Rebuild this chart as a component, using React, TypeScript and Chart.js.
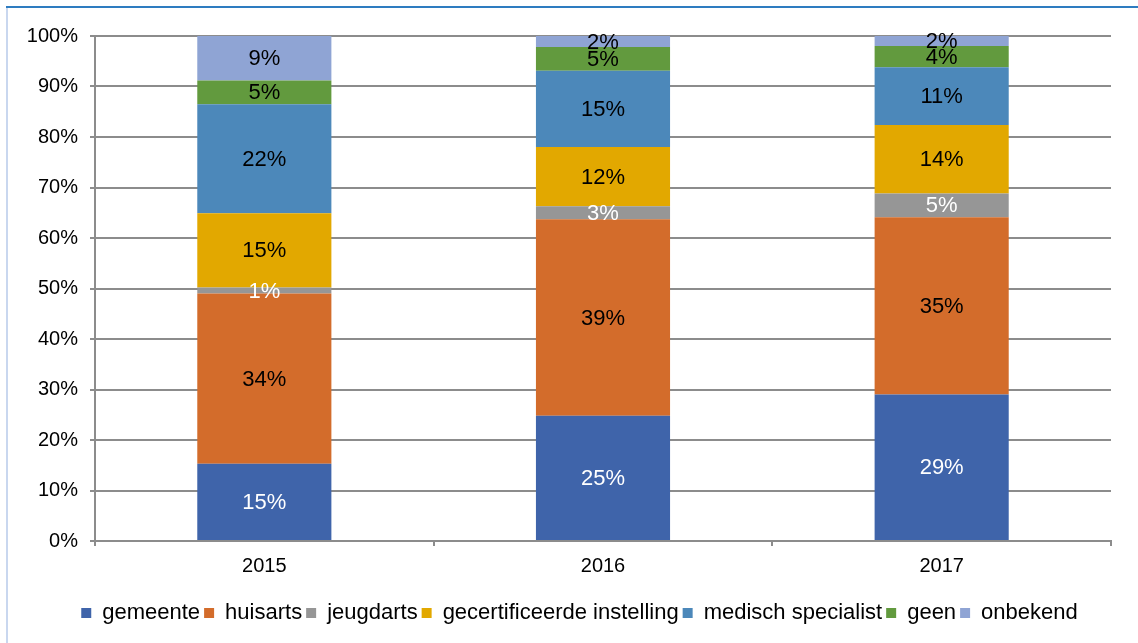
import React, { useEffect, useRef } from "react";
import { Chart, registerables } from "chart.js";

Chart.register(...registerables);

const years = ["2015", "2016", "2017"];
const seriesNames = [
  "gemeente",
  "huisarts",
  "jeugdarts",
  "gecertificeerde instelling",
  "medisch specialist",
  "geen",
  "onbekend",
];
const gemeente = [15.3, 24.8, 29.0];
const huisarts = [33.7, 38.9, 35.1];
const jeugdarts = [1.2, 2.6, 4.7];
const gecertificeerd = [14.7, 11.7, 13.6];
const medischSpecialist = [21.6, 15.1, 11.4];
const geen = [4.7, 4.7, 4.2];
const onbekend = [8.8, 2.2, 2.0];
const seriesColors = ["#3F64AA", "#D36C2B", "#969696", "#E2A800", "#4C88BA", "#629A3E", "#8FA4D4"];
const labelColors = ["#FFFFFF", "#000000", "#FFFFFF", "#000000", "#000000", "#000000", "#000000"];
const yTicks = [0, 10, 20, 30, 40, 50, 60, 70, 80, 90, 100];

const FONT = "'Liberation Sans', Arial, sans-serif";

const framePlugin = {
  id: "frame",
  beforeDraw(chart: any) {
    const ctx = chart.ctx;
    ctx.save();
    ctx.fillStyle = "#FFFFFF";
    ctx.fillRect(0, 0, chart.width, chart.height);
    ctx.fillStyle = "#2E7CC0";
    ctx.fillRect(6, 6, chart.width - 6, 2);
    ctx.fillStyle = "#C9D7EF";
    ctx.fillRect(6, 8, 2, chart.height - 8);
    ctx.restore();
  },
};

const dataLabelPlugin = {
  id: "segLabels",
  afterDatasetsDraw(chart: any) {
    const ctx = chart.ctx;
    ctx.save();
    ctx.font = `22px ${FONT}`;
    ctx.textAlign = "center";
    ctx.textBaseline = "middle";
    chart.data.datasets.forEach((ds: any, i: number) => {
      const meta = chart.getDatasetMeta(i);
      meta.data.forEach((bar: any, j: number) => {
        const v = ds.data[j];
        const cy = (bar.y + bar.base) / 2;
        ctx.fillStyle = labelColors[i];
        ctx.fillText(Math.round(v) + "%", bar.x, cy + 1);
      });
    });
    ctx.restore();
  },
};

export default function App() {
  const ref = useRef<HTMLCanvasElement>(null);
  useEffect(() => {
    document.body.style.margin = "0";
    const all = [gemeente, huisarts, jeugdarts, gecertificeerd, medischSpecialist, geen, onbekend];
    const chart = new Chart(ref.current!, {
      type: "bar",
      data: {
        labels: years,
        datasets: all.map((d, i) => ({
          label: seriesNames[i],
          data: d,
          backgroundColor: seriesColors[i],
          categoryPercentage: 1,
          barPercentage: 0.396,
        })),
      },
      options: {
        responsive: false,
        animation: false,
        layout: { padding: { top: 36, right: 0, bottom: 9, left: 21 } },
        plugins: {
          legend: {
            position: "bottom",
            labels: {
              boxWidth: 10,
              boxHeight: 10,
              padding: 4,
              color: "#000",
              font: { family: FONT, size: 22 },
            },
          },
          tooltip: { enabled: false },
        },
        scales: {
          x: {
            stacked: true,
            afterFit: (s: any) => {
              s.height = 57;
            },
            grid: {
              display: true,
              drawOnChartArea: false,
              drawTicks: true,
              tickLength: 5,
              offset: true,
              color: "#8C8C8C",
              lineWidth: 2,
            },
            border: { display: true, color: "#8C8C8C", width: 2 },
            ticks: { color: "#000", padding: 8, font: { family: FONT, size: 20 } },
          },
          y: {
            stacked: true,
            min: 0,
            max: 100,
            afterFit: (s: any) => {
              s.width = 74;
            },
            afterBuildTicks: (s: any) => {
              s.ticks = yTicks.map((v) => ({ value: v }));
            },
            grid: { color: "#8C8C8C", lineWidth: 2, tickLength: 5, drawTicks: true },
            border: { display: true, color: "#8C8C8C", width: 2 },
            ticks: {
              color: "#000",
              padding: 12,
              font: { family: FONT, size: 20 },
              callback: (v: any) => v + "%",
            },
          },
          yRight: {
            position: "right",
            display: true,
            min: 0,
            max: 100,
            afterFit: (s: any) => {
              s.width = 27;
            },
            grid: { display: false, drawOnChartArea: false },
            border: { display: false },
            ticks: { display: false },
          },
        },
      },
      plugins: [framePlugin, dataLabelPlugin],
    });
    return () => chart.destroy();
  }, []);

  return (
    <div style={{ position: "relative", width: 1138, height: 643, overflow: "hidden", background: "#fff" }}>
      <canvas ref={ref} width={1138} height={643} style={{ display: "block" }} />
    </div>
  );
}
